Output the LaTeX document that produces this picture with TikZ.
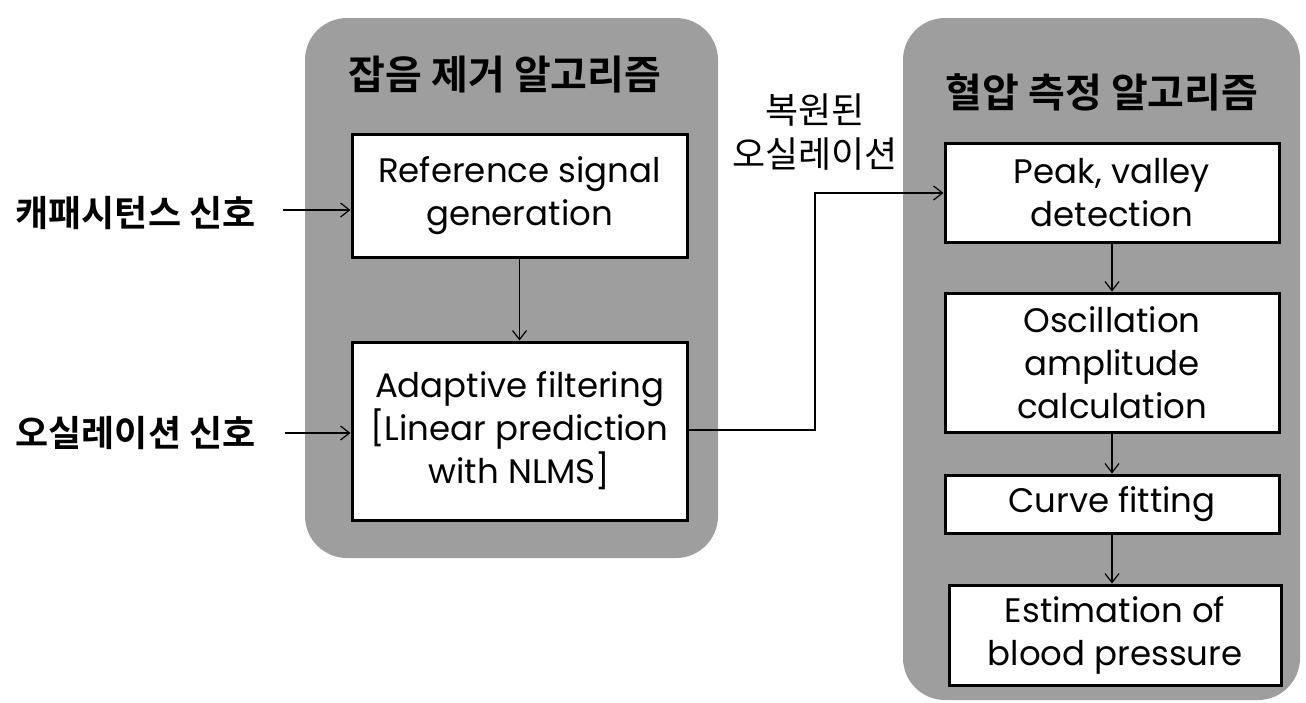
\documentclass[tikz,border=0pt]{standalone}
\usepackage{fontspec}
\setmainfont{Poppins}
\newfontfamily\kr{Noto Sans CJK KR}
\newfontfamily\krb{Noto Sans CJK KR Bold}
\usetikzlibrary{arrows.meta}
\definecolor{panelgray}{gray}{0.62}
\tikzset{
  panel/.style={draw=none, fill=panelgray, rounded corners=42pt},
  blk/.style={draw=black, line width=3pt, fill=white, align=center, font=\fontsize{34}{43}\selectfont, inner sep=0pt},
  ttl/.style={font=\krb\fontsize{40}{46}\selectfont},
  lbl/.style={font=\krb\fontsize{36}{42}\selectfont, anchor=west},
  conn/.style={line width=1.2pt, -{Straight Barb[length=9pt,width=14pt,line width=1.2pt]}},
}
\begin{document}
\begin{tikzpicture}[x=1pt,y=-1pt]
\useasboundingbox (0,0) rectangle (1306,702);
% panels
\fill[panel] (305,18) rectangle (718,558);
\fill[panel] (903,18) rectangle (1300,700);
% titles
\node[ttl] (t1) at (505,75) {잡음 제거 알고리즘};
\node[ttl] (t2) at (1102,92) {혈압 측정 알고리즘};
% left boxes
\node[blk, minimum width=335pt, minimum height=123pt] (b1) at (519.5,195.5) {Reference signal\\generation};
\node[blk, minimum width=335pt, minimum height=178pt] (b2) at (519.5,431) {Adaptive filtering\\{[}Linear prediction\\with NLMS{]}};
% right boxes
\node[blk, minimum width=334pt, minimum height=99pt] (r1) at (1112,192.5) {Peak, valley\\detection};
\node[blk, minimum width=334pt, minimum height=139pt] (r2) at (1112,362.5) {Oscillation\\amplitude\\calculation};
\node[blk, minimum width=334pt, minimum height=58pt] (r3) at (1112,504) {Curve fitting};
\node[blk, minimum width=332pt, minimum height=100pt] (r4) at (1115,635) {Estimation of\\blood pressure};
% input labels
\node[lbl] (in1) at (12,213) {캐패시턴스 신호};
\node[lbl] (in2) at (12,433) {오실레이션 신호};
\node[font=\kr\fontsize{36}{44}\selectfont, align=center] (out) at (815,132) {복원된\\오실레이션};
% connectors
\coordinate (s1) at (283,210);
\coordinate (s2) at (285,433);
\draw[conn] (s1) -- (b1.west |- s1);
\draw[conn] (s2) -- (b2.west |- s2);
\draw[conn] (b1.south) -- (b2.north);
\coordinate (c1) at (815,430);
\coordinate (c2) at (815,193);
\draw[conn] (b2.east |- c1) -- (c1) -- (c2) -- (r1.west |- c2);
\draw[conn] (r1.south) -- (r2.north);
\draw[conn] (r2.south) -- (r3.north);
\draw[conn] (r3.south) -- (r3.south |- r4.north);
\end{tikzpicture}
\end{document}
